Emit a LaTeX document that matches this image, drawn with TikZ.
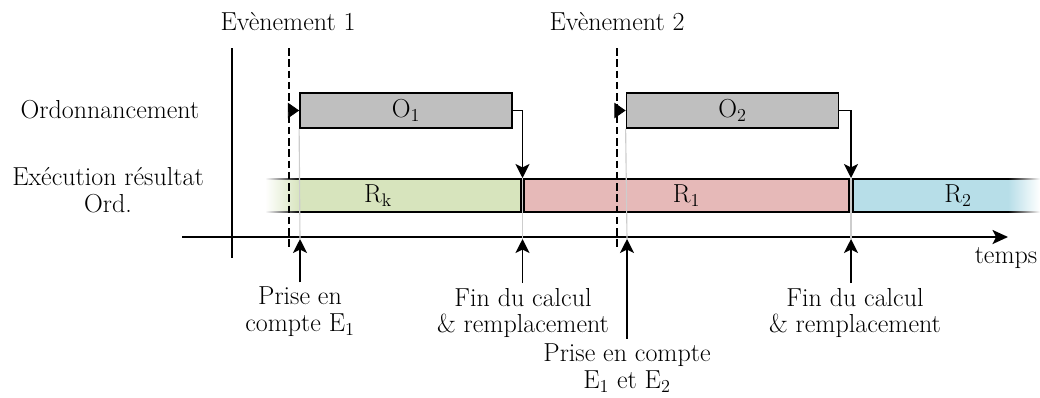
\documentclass[tikz,border=0pt]{standalone}
\usepackage{tikz}
\usepackage{xcolor}
\usetikzlibrary{arrows.meta}
\definecolor{ordgray}{RGB}{191,191,191}
\definecolor{resgreen}{RGB}{215,228,189}
\definecolor{resred}{RGB}{230,185,184}
\definecolor{resblue}{RGB}{183,222,232}
\definecolor{guidegray}{RGB}{205,205,205}

\begin{document}
\begin{tikzpicture}[x=0.025cm,y=-0.025cm,
  every node/.style={font=\fontsize{18.5}{19}\selectfont},
  ordbox/.style={draw,line width=1.2pt,fill=ordgray,minimum width=5.3cm,minimum height=0.875cm,inner sep=0pt},
  resline/.style={line width=1.2pt},
  axis/.style={line width=1.2pt},
  event/.style={line width=1.2pt,dash pattern=on 5.5pt off 2.5pt},
  guide/.style={guidegray,line width=0.8pt},
  flow/.style={line width=1.2pt,-{Stealth[length=10pt,width=10pt,inset=2.5pt]}},
  trig/.style={line width=0.6pt,-{Triangle[length=8pt,width=11pt]}}]
\useasboundingbox (0,0) rectangle (1040,397);
% lignes
\node (ord) at (110,110) {Ordonnancement};
\node[align=center] (exe) at (108,190) {Exécution résultat\\Ord.};
% bande resultats
\shade[left color=white,right color=resgreen] (265,179) rectangle (300,212);
\fill[resgreen] (300,179) rectangle (521,212);
\shade[left color=white,right color=black] (265,178.3) rectangle (300,179.7);
\shade[left color=white,right color=black] (265,211.3) rectangle (300,212.7);
\draw[resline] (300,179) -- (521,179) -- (521,212) -- (300,212);
\node (rk) at (378,195.5) {R\textsubscript{k}};
\draw[resline,fill=resred] (524,179) rectangle (849,212);
\node (r1) at (686.5,195.5) {R\textsubscript{1}};
\fill[resblue] (853,179) rectangle (1008,212);
\shade[left color=resblue,right color=white] (1008,179) rectangle (1040,212);
\shade[left color=black,right color=white] (1008,178.3) rectangle (1040,179.7);
\shade[left color=black,right color=white] (1008,211.3) rectangle (1040,212.7);
\draw[resline] (1008,179) -- (853,179) -- (853,212) -- (1008,212);
\node (r2) at (958,195.5) {R\textsubscript{2}};
% axes
\draw[axis] (232,48) -- (232,258);
\draw[axis,-{Stealth[length=11pt,width=10pt,inset=2.5pt]}] (182,237) -- (1008,237);
\node (tps) at (1006,258) {temps};
% evenements
\node (ev1) at (288,22) {Evènement 1};
\node (ev2) at (617,22) {Evènement 2};
\coordinate (e1) at (289,110.5);
\coordinate (e2) at (617,110.5);
\draw[event] (289,48) -- (289,250);
\draw[event] (617,48) -- (617,250);
% ordonnancement
\node[ordbox] (o1) at (406,110.5) {O\textsubscript{1}};
\node[ordbox] (o2) at (732.5,110.5) {O\textsubscript{2}};
\draw[trig] (e1) -- (o1.west);
\draw[trig] (e2) -- (o2.west);
\coordinate (s1) at (522.5,178);
\coordinate (s2) at (851,178);
\coordinate (t1) at (300,239);
\coordinate (t2) at (522.5,239);
\coordinate (t3) at (627,239);
\coordinate (t4) at (851,239);
\draw[guide] (o1.south west) -- (t1);
\draw[guide] (s1) -- (t2);
\draw[guide] (o2.south west) -- (t3);
\draw[guide] (s2) -- (t4);
\draw[flow] (o1.east) -| (s1);
\draw[flow] (o2.east) -| (s2);
% reperes
\node[align=center] (p1) at (300,312) {Prise en\\compte E\textsubscript{1}};
\node[align=center] (f1) at (523,313) {Fin du calcul\\\& remplacement};
\node[align=center] (p2) at (627,368) {Prise en compte\\E\textsubscript{1} et E\textsubscript{2}};
\node[align=center] (f2) at (855,313) {Fin du calcul\\\& remplacement};
\draw[flow] (p1.north) -- (t1);
\draw[flow] (f1.north -| t2) -- (t2);
\draw[flow] (p2.north) -- (t3);
\draw[flow] (f2.north -| t4) -- (t4);
\end{tikzpicture}
\end{document}
